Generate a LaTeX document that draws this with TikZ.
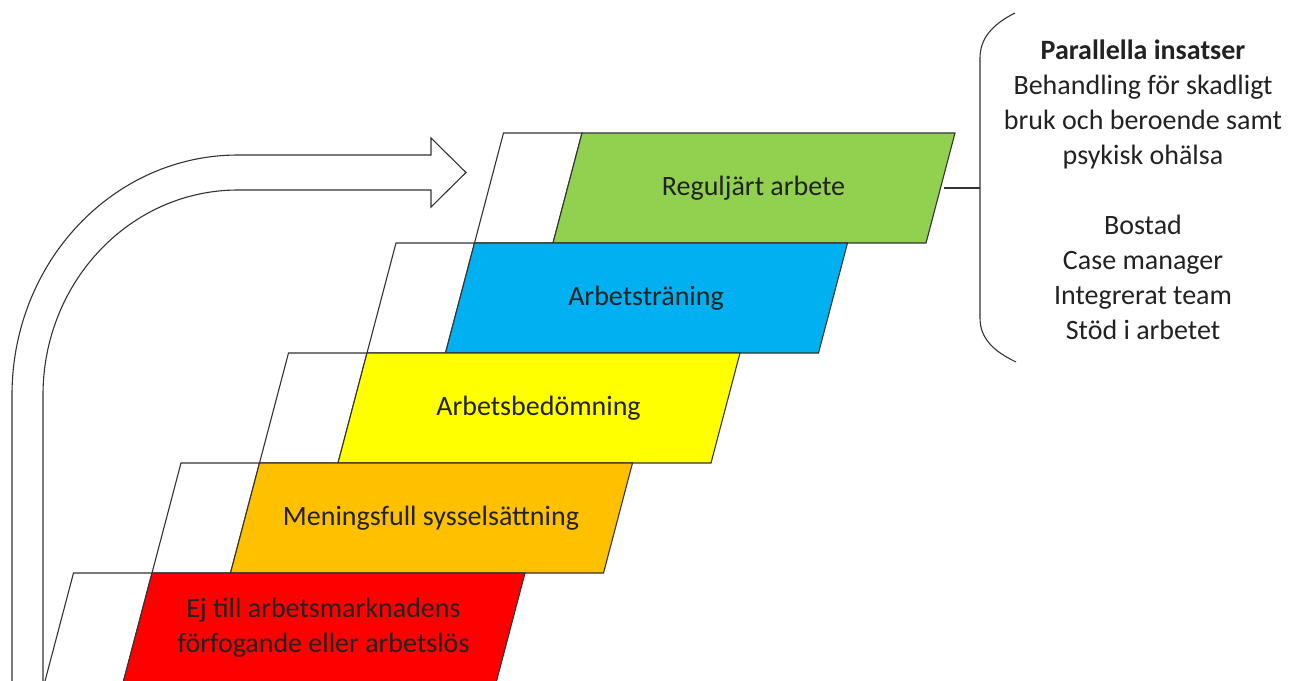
\documentclass[tikz,border=0pt]{standalone}
\usepackage{fontspec}
\setmainfont{Carlito}
\definecolor{stepgreen}{HTML}{92D050}
\definecolor{stepblue}{HTML}{00B0F0}
\definecolor{stepyellow}{HTML}{FFFF00}
\definecolor{steporange}{HTML}{FFC000}
\definecolor{stepred}{HTML}{FF0000}
\definecolor{inkline}{HTML}{333333}
\definecolor{inktext}{HTML}{222222}
\newcommand\stair[5]{% #1 x0, #2 y0, #3 colour, #4 name, #5 text
  \begin{scope}[shift={(#1,#2)}]
    \path[outline, fill=white] (-78.5,0) -- (0,0) -- (-29,110) -- (-107.5,110) -- cycle;
    \path[outline, fill=#3] (0,0) -- (373,0) -- (344,110) -- (-29,110) -- cycle;
    \node[steplabel] (#4) at (171.5,55) {#5};
  \end{scope}}
\begin{document}
\begin{tikzpicture}[x=1pt,y=-1pt,line join=miter,
  outline/.style={draw=inkline, line width=1.1pt},
  steplabel/.style={font=\fontsize{28}{35}\selectfont, text=inktext, align=center, inner sep=0pt},
  sidetext/.style={font=\fontsize{28}{35}\selectfont, text=inktext, align=center, inner sep=0pt}]
\useasboundingbox (0,0) rectangle (1305,680);
\begin{scope}
\clip (0,0) rectangle (1305,680);
% curved hollow arrow
\path[outline] (12,700) -- (12,395)
  .. controls (12,262.4) and (113,155) .. (238,155)
  -- (431,155) -- (431,138) -- (466,172.5) -- (431,207) -- (431,190) -- (238,190)
  .. controls (130.3,190) and (43,281.8) .. (43,395) -- (43,700);
% stairs, top to bottom
\stair{582}{133}{stepgreen}{regular}{Reguljärt arbete}
\stair{474.5}{243}{stepblue}{training}{Arbetsträning}
\stair{367}{353}{stepyellow}{assessment}{Arbetsbedömning}
\stair{259.5}{463}{steporange}{occupation}{Meningsfull sysselsättning}
\stair{152}{573}{stepred}{unemployed}{Ej till arbetsmarknadens\\förfogande eller arbetslös}
% bracket
\coordinate (tickstart) at (944,188);
\coordinate (bracemid) at (980,188);
\coordinate (bracetop) at (1015,13);
\coordinate (bracebot) at (1016,362);
\path[outline] (bracetop) .. controls (993,24) and (980,38) .. (980,58)
  -- (980,318) .. controls (980,338) and (993,351) .. (bracebot);
\path[outline] (tickstart) -- (bracemid);
\node[sidetext] (insatser) at (1143,190) {\textbf{Parallella insatser}\\Behandling för skadligt\\bruk och beroende samt\\psykisk ohälsa\\[35pt]Bostad\\Case manager\\Integrerat team\\Stöd i arbetet};
\end{scope}
\end{tikzpicture}
\end{document}
